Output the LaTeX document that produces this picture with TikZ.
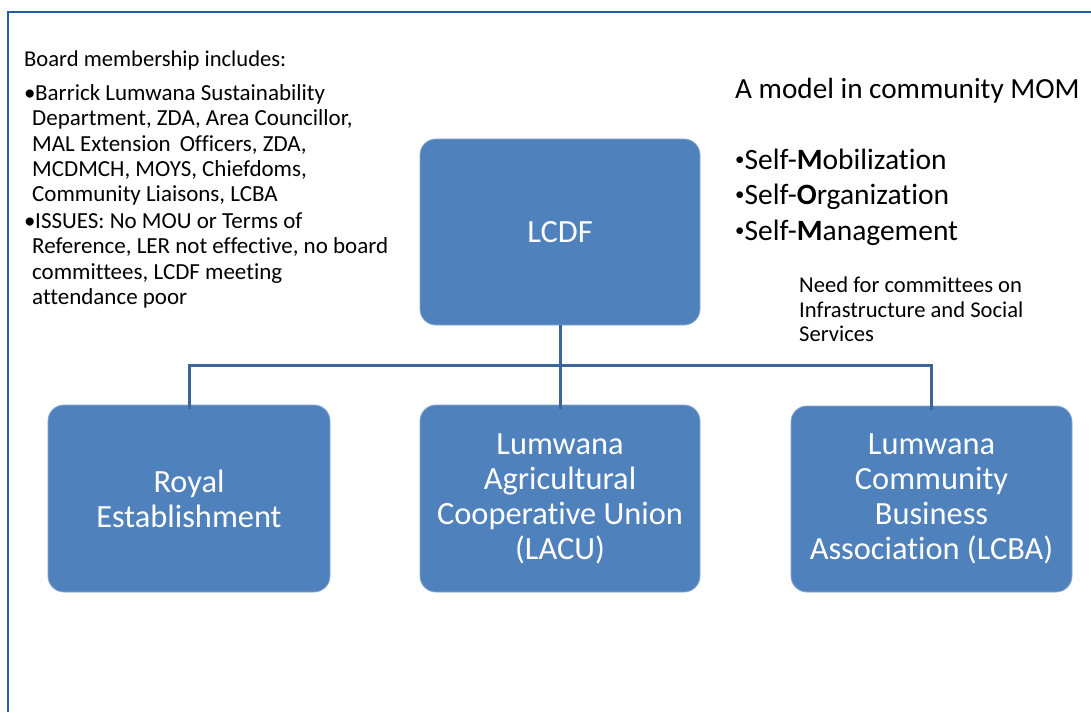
\documentclass[tikz,border=0pt]{standalone}
\usepackage{fontspec}
\setmainfont{Carlito}[Ligatures=NoCommon]
\definecolor{boxfill}{HTML}{4F81BD}
\definecolor{linecol}{HTML}{3B6498}
\definecolor{framecol}{HTML}{1F5FA8}
\newcommand{\lbul}{\makebox[11pt][l]{•}}
\newcommand{\rbul}{\raisebox{0.13em}{\scalebox{0.64}{•}}}
\tikzset{
  x=1pt, y=-1pt,
  orgbox/.style={rectangle, rounded corners=16pt, fill=boxfill, draw=boxfill!70!white, line width=0.8pt,
    text=white, align=center, inner sep=0pt, font=\fontsize{32.4}{35}\selectfont},
  conn/.style={draw=linecol, line width=3pt},
  txt/.style={anchor=base west, inner sep=0pt, text=black},
  small/.style={txt, font=\fontsize{23}{25}\selectfont},
  note/.style={txt, font=\fontsize{22.6}{25}\selectfont},
  big/.style={txt, font=\fontsize{29.5}{35}\selectfont},
}
\begin{document}
\begin{tikzpicture}
\useasboundingbox (0,0) rectangle (1091,712);
\fill[white] (0,0) rectangle (1091,712);
% frame
\draw[framecol, line width=2pt] (8,712) -- (8,12) -- (1091,12);

% boxes
\node[orgbox, minimum width=280pt, minimum height=186pt] (lcdf) at (560,232) {LCDF};
\node[orgbox, minimum width=282pt, minimum height=187pt] (royal) at (189,498.5) {Royal\\Establishment};
\node[orgbox, minimum width=280pt, minimum height=187pt] (lacu) at (560,498.5) {Lumwana\\Agricultural\\Cooperative Union\\(LACU)};
\node[orgbox, minimum width=281pt, minimum height=186pt] (lcba) at (931.5,499) {Lumwana\\Community\\Business\\Association (LCBA)};

% connectors
\coordinate (bar) at (560,365);
\draw[conn] (lcdf.south) -- ([yshift=-4pt]lacu.north);
\draw[conn] ([yshift=-4pt]royal.north) -- (royal.north |- bar) -- (lcba.north |- bar) -- ([yshift=-4pt]lcba.north);

% left text
\node[note] (board) at (24,66.7) {Board membership includes:};
\node[small] (m1) at (24,100.5) {\lbul Barrick Lumwana Sustainability};
\node[small] (m2) at (32,125.8) {Department, ZDA, Area Councillor,};
\node[small] (m3) at (32,151) {MAL Extension\, Officers, ZDA,};
\node[small] (m4) at (32,176.3) {MCDMCH, MOYS, Chiefdoms,};
\node[small] (m5) at (32,201.6) {Community Liaisons, LCBA};
\node[small] (i1) at (24,228.5) {\lbul ISSUES: No MOU or Terms of};
\node[small] (i2) at (32,253.8) {Reference, LER not effective, no board};
\node[small] (i3) at (32,279.1) {committees, LCDF meeting};
\node[small] (i4) at (32,304.4) {attendance poor};

% right text
\node[txt, font=\fontsize{29.2}{35}\selectfont] (model) at (735,98.3) {A model in community MOM};
\node[big] (s1) at (735,169.5) {\rbul Self-\textbf{M}obilization};
\node[big] (s2) at (735,204.5) {\rbul Self-\textbf{O}rganization};
\node[big] (s3) at (735,240) {\rbul Self-\textbf{M}anagement};
\node[note] (n1) at (799,292.7) {Need for committees on};
\node[note] (n2) at (799,317) {Infrastructure and Social};
\node[note] (n3) at (799,341.7) {Services};
\end{tikzpicture}
\end{document}
